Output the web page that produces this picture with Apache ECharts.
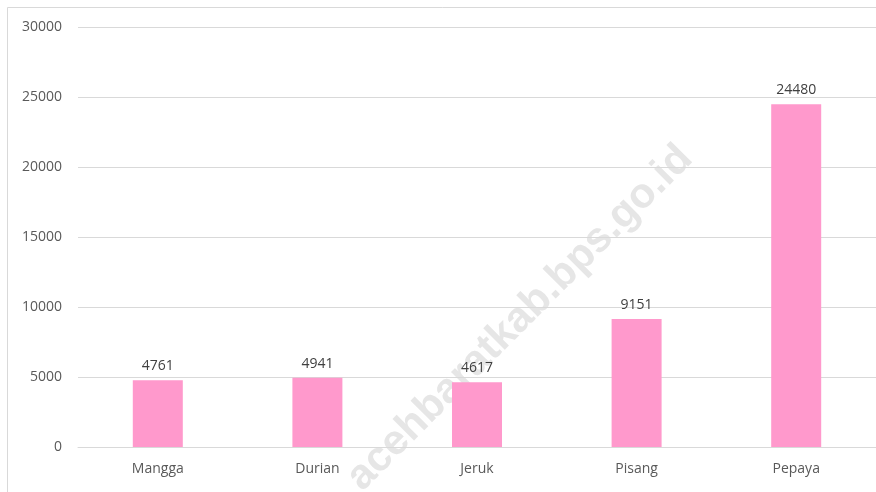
<!DOCTYPE html>
<html>
<head>
<meta charset="utf-8">
<script src="https://cdn.jsdelivr.net/npm/echarts@6/dist/echarts.min.js"></script>
<style>
  html, body { margin: 0; padding: 0; background: #fff; }
  #chart { width: 876px; height: 492px; }
</style>
</head>
<body>
<div id="chart"></div>
<script>
var categories = ['Mangga', 'Durian', 'Jeruk', 'Pisang', 'Pepaya'];
var values = [4761, 4941, 4617, 9151, 24480];

var chart = echarts.init(document.getElementById('chart'));

var option = {
  backgroundColor: '#fff',
  textStyle: { fontFamily: 'Open Sans' },
  graphic: [{
    type: 'rect',
    left: 5, top: 5,
    shape: { width: 900, height: 520 },
    style: { fill: 'none', stroke: '#d9d9d9', lineWidth: 1 },
    silent: true, z: -10
  }, {
    // watermark, behind the bars and labels
    type: 'text',
    x: 520, y: 318,
    rotation: Math.PI / 4,
    style: {
      text: 'acehbaratkab.bps.go.id',
      font: 'bold 42px "Liberation Sans"',
      fill: '#e6e6e6',
      align: 'center',
      verticalAlign: 'middle'
    },
    silent: true, z: -5
  }],
  grid: { left: 78, right: -2, top: 27, bottom: 45 },
  xAxis: {
    type: 'category',
    data: categories,
    axisLine: { lineStyle: { color: '#d9d9d9', width: 1 } },
    axisTick: { show: false },
    axisLabel: { color: '#595959', fontSize: 14, margin: 15 }
  },
  yAxis: {
    type: 'value',
    min: 0, max: 30000, interval: 5000,
    axisLine: { show: false },
    axisTick: { show: false },
    splitLine: { lineStyle: { color: '#d9d9d9', width: 1 } },
    axisLabel: {
      color: '#595959', fontSize: 14, margin: 16,
      formatter: function (v) { return String(v); }
    }
  },
  series: [{
    type: 'bar',
    data: values,
    barWidth: 50,
    itemStyle: { color: '#ff99cc' },
    label: {
      show: true, position: 'top', distance: 7,
      color: '#404040', fontSize: 14
    }
  }]
};

chart.setOption(option);
</script>
</body>
</html>
